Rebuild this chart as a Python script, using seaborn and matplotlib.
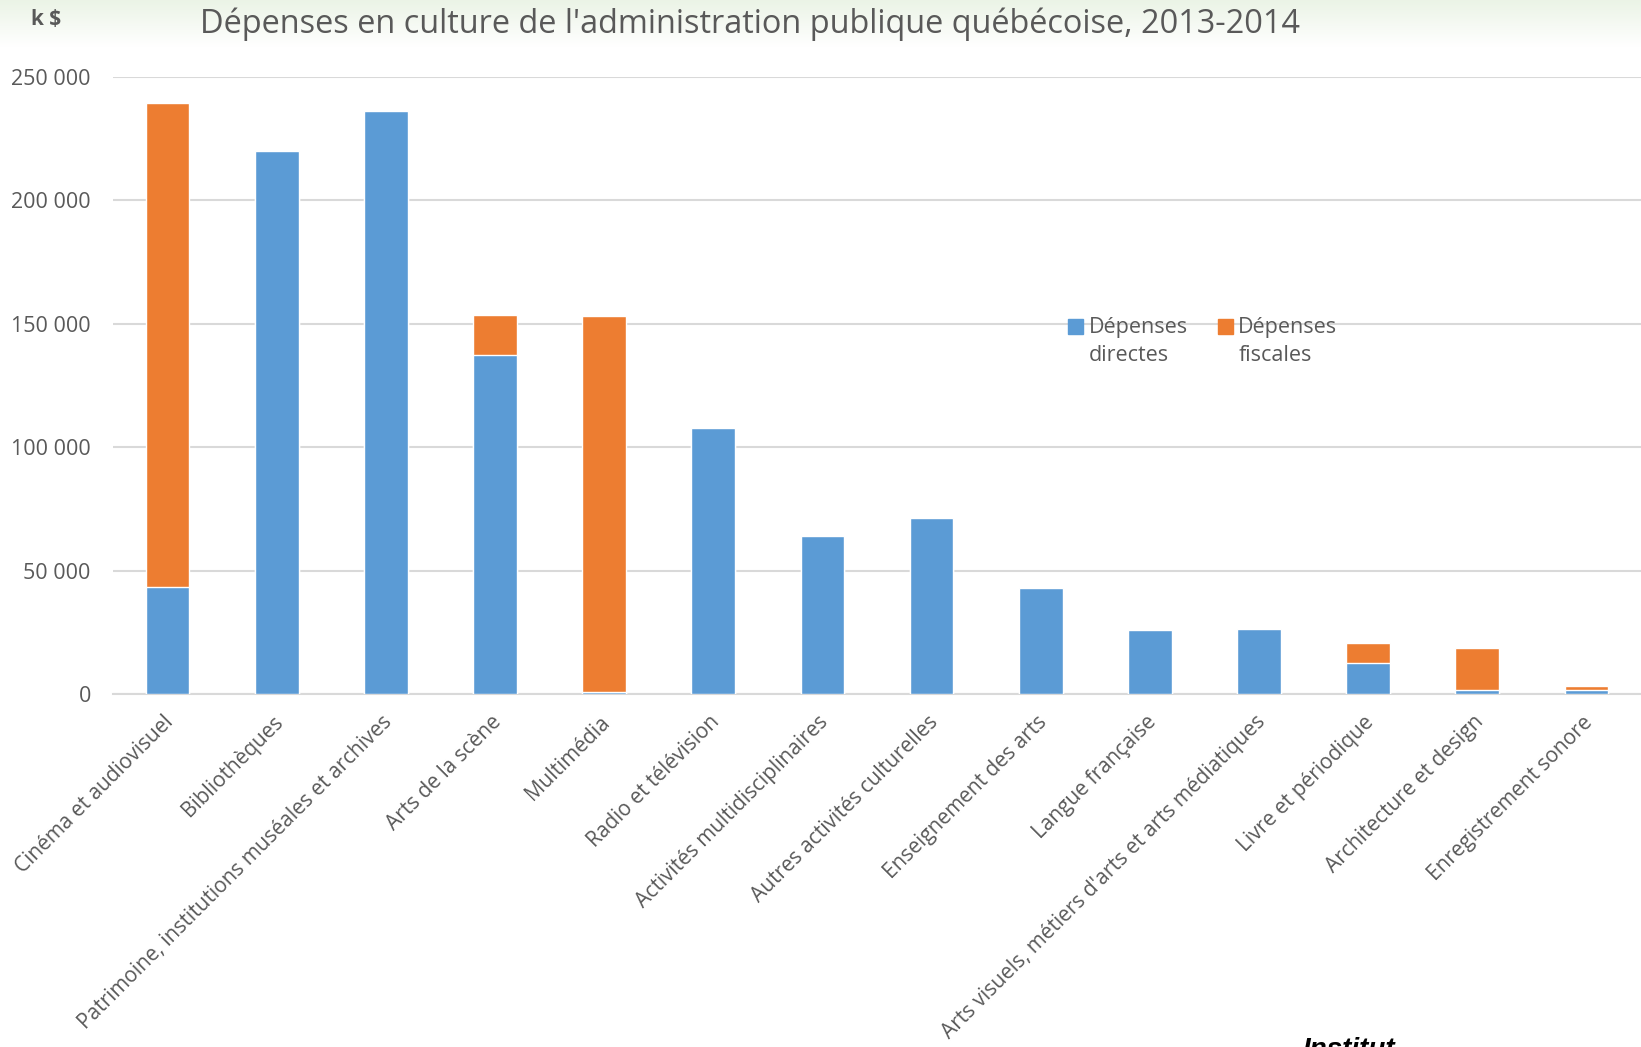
import numpy as np
import pandas as pd
import seaborn as sns
import matplotlib.pyplot as plt
import matplotlib.transforms as mtransforms
from matplotlib.patches import Patch, Rectangle
from matplotlib.legend_handler import HandlerPatch

# Data (k$)
categories = [
    "Cinéma et audiovisuel",
    "Bibliothèques",
    "Patrimoine, institutions muséales et archives",
    "Arts de la scène",
    "Multimédia",
    "Radio et télévision",
    "Activités multidisciplinaires",
    "Autres activités culturelles",
    "Enseignement des arts",
    "Langue française",
    "Arts visuels, métiers d'arts et arts médiatiques",
    "Livre et périodique",
    "Architecture et design",
    "Enregistrement sonore",
]
depenses_directes = [43400, 219900, 236100, 137500, 1000, 107800, 64100,
                     71400, 43200, 26100, 26600, 12500, 1700, 1900]
depenses_fiscales = [195800, 0, 0, 16200, 152100, 0, 0,
                     0, 0, 0, 0, 8300, 17000, 1500]
y_ticks = [0, 50000, 100000, 150000, 200000, 250000]
y_tick_labels = ["0", "50 000", "100 000", "150 000", "200 000", "250 000"]

BLUE = "#5b9bd5"
ORANGE = "#ed7d31"
GREY = "#595959"
FONT = "Open Sans"


def build_frame():
    df = pd.DataFrame({
        "categorie": categories,
        "directes": depenses_directes,
        "fiscales": depenses_fiscales,
    })
    df["total"] = df["directes"] + df["fiscales"]
    return df


def add_background(fig):
    # very faint green band along the top edge
    bg = fig.add_axes([0, 0.955, 1, 0.045], zorder=-10)
    grad = np.linspace(1, 0, 64).reshape(-1, 1)
    top = np.array([0.92, 0.955, 0.90])
    img = 1 - grad[..., None] * (1 - top)[None, None, :]
    img = np.repeat(img, 2, axis=1)
    bg.imshow(img, aspect="auto", extent=[0, 1, 0, 1])
    bg.axis("off")


def top_square(legend, orig_handle, xdescent, ydescent, width, height, fontsize):
    # put the legend square next to the first line of a two-line label
    return Rectangle((-xdescent, -ydescent + fontsize * 0.72), width, height)


def draw_chart(df):
    sns.set_theme(style="white")
    plt.rcParams["font.family"] = [FONT, "DejaVu Sans"]

    fig = plt.figure(figsize=(16.41, 10.47), dpi=100)
    add_background(fig)
    ax = fig.add_axes([0.0689, 0.3369, 0.9311, 0.5898])

    # stacked bars: total (orange) behind, direct (blue) in front
    sns.barplot(data=df, x="categorie", y="total", color=ORANGE,
                width=0.4, saturation=1, ax=ax, zorder=3)
    sns.barplot(data=df, x="categorie", y="directes", color=BLUE,
                width=0.4, saturation=1, ax=ax, zorder=4)

    ax.set_xlim(-0.5, len(categories) - 0.5)
    ax.set_ylim(0, 250000)
    ax.set_yticks(y_ticks)
    ax.set_yticklabels(y_tick_labels, fontsize=15.5, color=GREY)
    ax.yaxis.grid(True, color="#d9d9d9", linewidth=1.5, zorder=0)
    ax.set_axisbelow(True)
    ax.tick_params(axis="both", length=0)
    ax.tick_params(axis="y", pad=16)
    ax.set_xlabel("")
    ax.set_ylabel("")

    offset = mtransforms.ScaledTranslation(3 / 100, -20 / 100, fig.dpi_scale_trans)
    ax.set_xticks(range(len(categories)))
    ax.set_xticklabels(categories, rotation=45, ha="right", va="center",
                       rotation_mode="anchor", fontsize=15, color=GREY)
    for lab in ax.get_xticklabels():
        lab.set_transform(lab.get_transform() + offset)

    for side in ["left", "right", "top"]:
        ax.spines[side].set_visible(False)
    ax.spines["bottom"].set_color("#d9d9d9")
    ax.spines["bottom"].set_linewidth(1.5)

    handles = [Patch(color=BLUE), Patch(color=ORANGE)]
    leg = ax.legend(handles, ["Dépenses\ndirectes", "Dépenses\nfiscales"],
                    loc="upper left", bbox_to_anchor=(0.639, 0.716),
                    bbox_transform=fig.transFigure, ncol=2, frameon=False,
                    fontsize=15.5, handlelength=0.7, handleheight=0.7,
                    handletextpad=0.25, columnspacing=1.4, labelcolor=GREY,
                    handler_map={Patch: HandlerPatch(patch_func=top_square)})
    for t in leg.get_texts():
        t.set_linespacing(1.45)

    fig.text(0.457, 0.977, "Dépenses en culture de l'administration publique québécoise, 2013-2014",
             ha="center", va="center", fontsize=23.4, color=GREY)
    fig.text(0.019, 0.981, "k $", ha="left", va="center", fontsize=15,
             fontweight="bold", color=GREY)
    fig.text(0.794, -0.0095, "Institut", ha="left", va="baseline", fontsize=20,
             fontweight="bold", style="italic", family="Liberation Sans", color="black")

    fig.savefig("out.png", dpi=100)


def main():
    df = build_frame()
    draw_chart(df)


if __name__ == "__main__":
    main()
